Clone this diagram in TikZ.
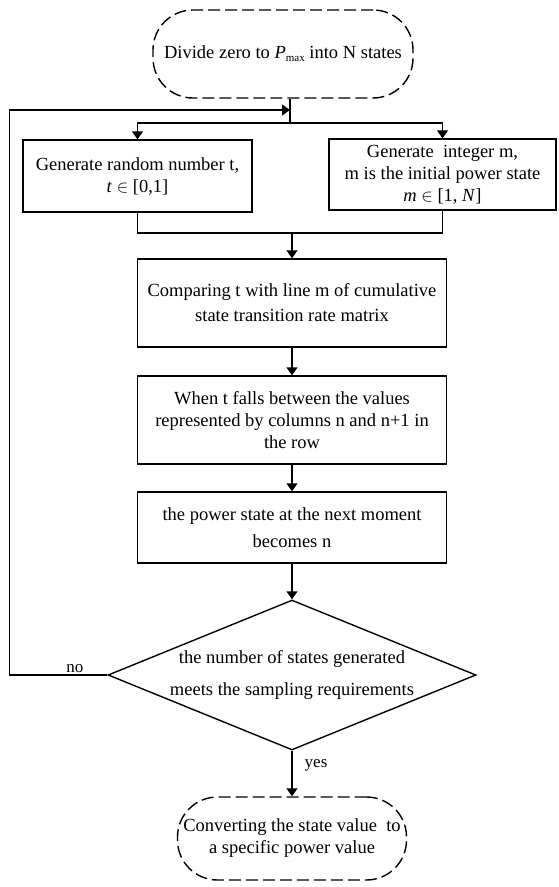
\documentclass[tikz,border=0pt]{standalone}
\usepackage{fontspec}
\setmainfont{Liberation Serif}
\usetikzlibrary{shapes.geometric,arrows.meta}
\begin{document}
\begin{tikzpicture}[x=1pt,y=-1pt, line width=1.4pt,
  txt/.style={font=\fontsize{18.5}{22}\selectfont},
  box/.style={draw, rectangle, inner sep=1pt, align=center, txt},
  term/.style={draw, rectangle, rounded corners=40pt, dash pattern=on 12pt off 5pt, align=center, txt},
  arr/.style={-{Triangle[width=11pt,length=8pt]}},
  lbl/.style={font=\fontsize{17}{18}\selectfont, inner sep=2pt}]
\useasboundingbox (0,0) rectangle (558,887);

\node[term, minimum width=260pt, minimum height=88pt] (top) at (283,54)
  {Divide zero to \textit{P}\raisebox{-3pt}{\fontsize{11}{11}\selectfont max} into N states};

\coordinate (fb) at (290,110);
\coordinate (split) at (290,123);
\coordinate (merge) at (292,233);

\node[box, minimum width=229pt, minimum height=72pt] (lb) at (137.5,176)
  {Generate random number t,\\ \textit{t} $\in$ [0,1]};
\node[box, minimum width=227pt, minimum height=71pt] (rb) at (442.5,174.5)
  {Generate\ \ integer m,\\ m is the initial power state\\ \textit{m} $\in$ [1, \textit{N}]};

\node[box, minimum width=309pt, minimum height=88pt, font=\fontsize{18.5}{25}\selectfont] (b1) at (292,303)
  {Comparing t with line m of cumulative\\ state transition rate matrix};
\node[box, minimum width=309pt, minimum height=88pt] (b2) at (292,420)
  {When t falls between the values\\ represented by columns n and n+1 in\\ the row};
\node[box, minimum width=309pt, minimum height=71pt, font=\fontsize{18.5}{27}\selectfont] (b3) at (292,527.5)
  {the power state at the next moment\\ becomes n};

\node[draw, diamond, minimum width=368pt, minimum height=150pt, inner sep=0pt] (dia) at (292,675) {};
\node[align=center, font=\fontsize{18.5}{32}\selectfont] (diat) at (dia.center)
  {the number of states generated\\ meets the sampling requirements};

\node[term, minimum width=229pt, minimum height=83pt] (bot) at (292,838.5)
  {Converting the state value\ \ to\\ a specific power value};

\draw (top.south -| split) -- (split);
\draw[arr] (split) -| (lb.north);
\draw[arr] (split) -| (rb.north);
\draw (lb.south) |- (merge);
\draw (rb.south) |- (merge);
\draw[arr] (merge) -- (b1.north);
\draw[arr] (b1.south) -- (b2.north);
\draw[arr] (b2.south) -- (b3.north);
\draw[arr] (b3.south) -- (dia.north);
\draw[arr] (dia.south) -- (bot.north) node[lbl, pos=0.33, right=10pt] (yes) {yes};
\draw[arr] (dia.west) -- ++(-98,0) node[lbl, pos=0.33, above] (no) {no} |- (fb);
\end{tikzpicture}
\end{document}
